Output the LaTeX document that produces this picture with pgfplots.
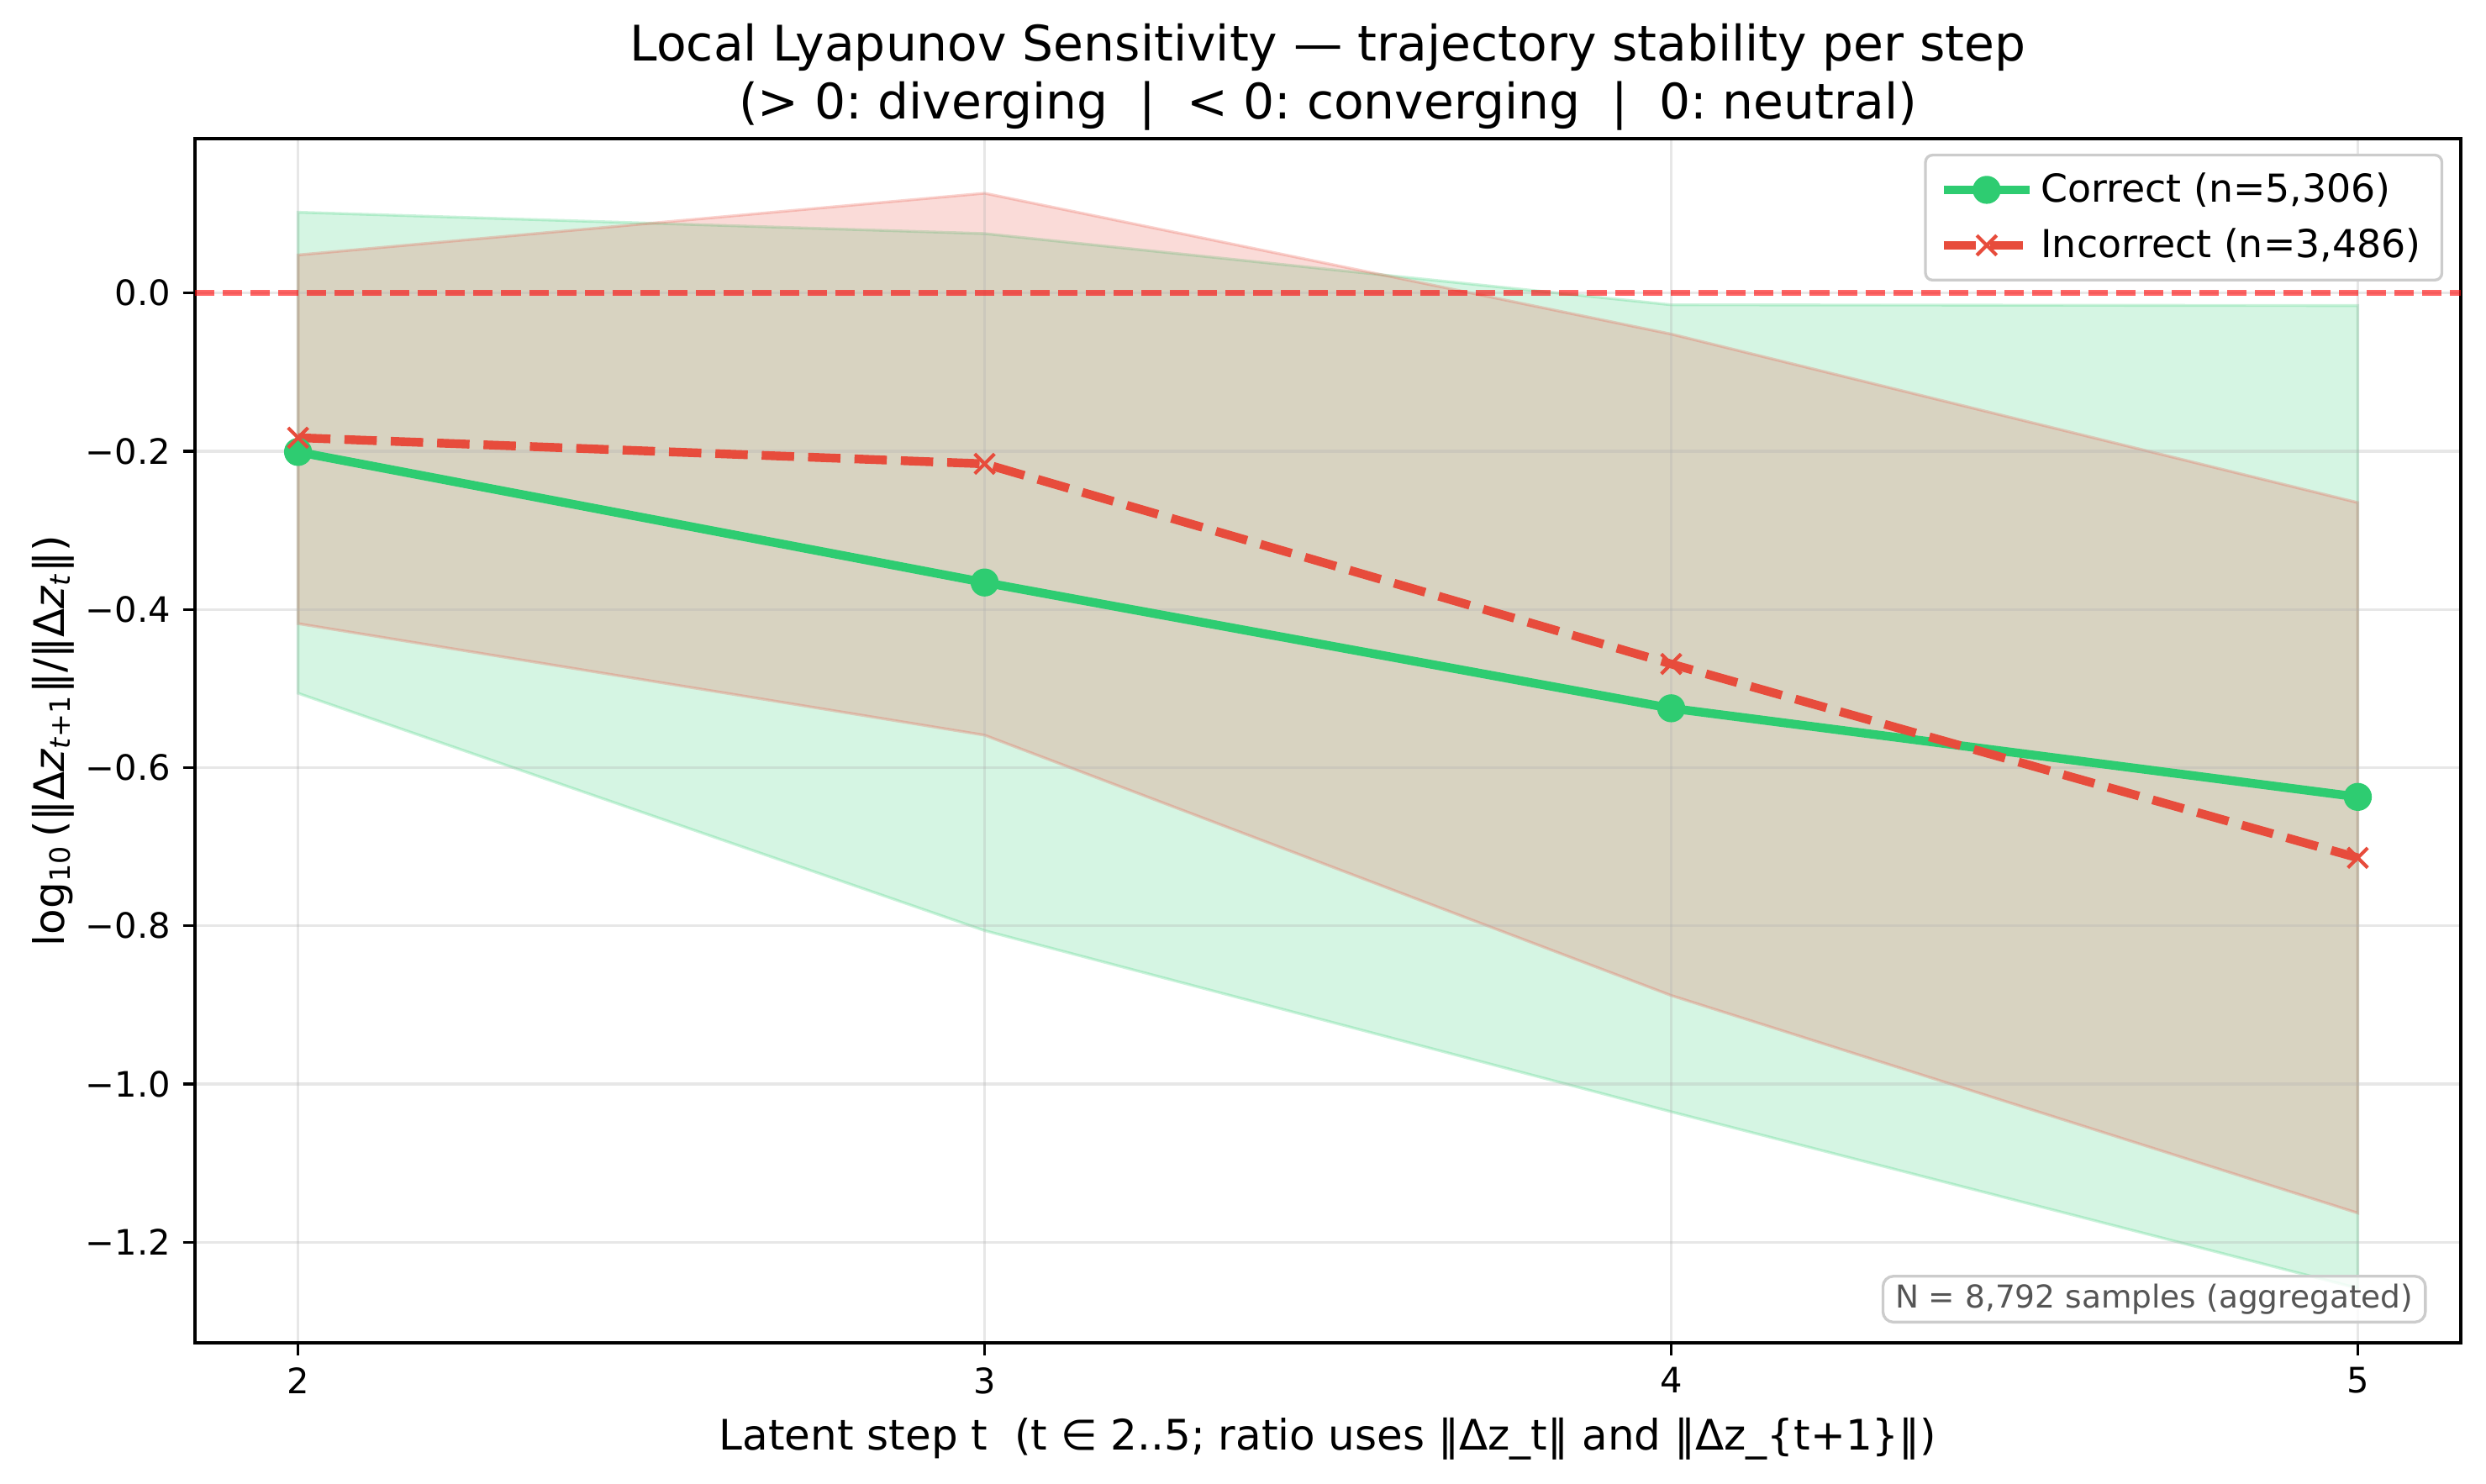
\documentclass[border=0pt]{standalone}
\usepackage{pgfplots}
\pgfplotsset{compat=1.18}
\usepackage{pgfplotstable}
\usepackage{fontspec}
\setmainfont{DejaVu Sans}
\frenchspacing
\definecolor{cgreen}{HTML}{2ECC71}
\definecolor{cred}{HTML}{E74C3C}
\definecolor{gridc}{HTML}{B0B0B0}
\definecolor{legedge}{HTML}{CCCCCC}
\definecolor{anntext}{HTML}{555555}

\pgfplotstableread{
x mean
2 -0.201
3 -0.366
4 -0.525
5 -0.637
}\correct
\pgfplotstableread{
x mean
2 -0.183
3 -0.216
4 -0.469
5 -0.714
}\incorrect

\begin{document}
\begin{tikzpicture}
\begin{axis}[
  name=ax,
  set layers,
  scale only axis,
  width=647pt, height=343.9pt,
  xmin=1.85, xmax=5.15,
  ymin=-1.327, ymax=0.195,
  xtick={2,3,4,5}, xticklabels={2,3,4,5},
  ytick={-1.2,-1.0,-0.8,-0.6,-0.4,-0.2,0.0},
  yticklabels={−1.2,−1.0,−0.8,−0.6,−0.4,−0.2,0.0},
  tick align=outside,
  major tick length=3.5pt,
  tick style={black, line width=0.8pt},
  xtick pos=bottom, ytick pos=left,
  axis line style={line width=0.8pt},
  ticklabel style={font=\fontsize{10}{12}\selectfont},
  grid=major,
  major grid style={draw=gridc, opacity=0.3, line width=0.8pt},
  xlabel={Latent step t\ \ (t ∈ 2..5; ratio uses ‖Δz\_t‖ and ‖Δz\_\{t+1\}‖)},
  ylabel={log\textsubscript{10}\,(‖Δ\textit{z}\textsubscript{\textit{t}+1}‖/‖Δ\textit{z}\textsubscript{\textit{t}}‖)},
  ylabel shift=-3.6pt,
  label style={font=\fontsize{12}{14}\selectfont},
  legend style={at={(1,1)}, anchor=north east, xshift=-5pt, yshift=-4.3pt,
    draw=legedge, rounded corners=2pt, line width=0.8pt,
    font=\fontsize{11}{13}\selectfont, inner xsep=4pt, inner ysep=3pt,
    row sep=2pt, cells={anchor=west}},
  legend image code/.code={\draw[mark repeat=2,mark phase=2,#1] plot coordinates {(0cm,0cm) (0.43cm,0cm) (0.86cm,0cm)};},
]
% bands
\addplot[on layer=axis background, fill=cgreen, fill opacity=0.2, draw=cgreen, draw opacity=0.25, line width=0.8pt, forget plot]
  coordinates {(2,0.102)(3,0.075)(4,-0.015)(5,-0.016)(5,-1.258)(4,-1.035)(3,-0.806)(2,-0.506)} -- cycle;
\addplot[on layer=axis background, fill=cred, fill opacity=0.2, draw=cred, draw opacity=0.25, line width=0.8pt, forget plot]
  coordinates {(2,0.048)(3,0.126)(4,-0.052)(5,-0.265)(5,-1.163)(4,-0.888)(3,-0.559)(2,-0.418)} -- cycle;
% zero line
\addplot[red, opacity=0.6, line width=1.5pt, dash pattern=on 5.55pt off 2.4pt, forget plot]
  coordinates {(1.85,0)(5.15,0)};
% means
\addplot[cgreen, line width=2.5pt, mark=*, mark size=3.8pt,
  mark options={solid, fill=cgreen, draw=cgreen, line width=0.4pt}]
  table[x=x, y=mean]{\correct};
\addlegendentry{Correct (n=5,306)}
\addplot[cred, line width=2.5pt, dash pattern=on 9.25pt off 4pt, mark=x, mark size=4pt,
  mark options={solid, line width=1pt}]
  table[x=x, y=mean]{\incorrect};
\addlegendentry{Incorrect (n=3,486)}
% annotation
\node[anchor=south east, draw=legedge, line width=0.8pt, fill=white, fill opacity=0.8, text opacity=1,
  rounded corners=3pt, inner xsep=3.5pt, inner ysep=2.2pt, text=anntext,
  font=\fontsize{9}{11}\selectfont]
  at (rel axis cs:0.985,0.016) {N = 8,792 samples (aggregated)};
\end{axis}
% title
\node[anchor=south, align=center, font=\fontsize{14}{16.5}\selectfont, inner sep=0pt]
  at ([yshift=2.2pt]ax.north) {Local Lyapunov Sensitivity — trajectory stability per step\\(> 0: diverging\ \ |\ \ < 0: converging\ \ |\ \ 0: neutral)};
\pgfresetboundingbox
\path[use as bounding box] ([shift={(-55.7pt,-40.1pt)}]ax.south west) rectangle ([shift={(7.2pt,39.6pt)}]ax.north east);
\end{tikzpicture}
\end{document}
